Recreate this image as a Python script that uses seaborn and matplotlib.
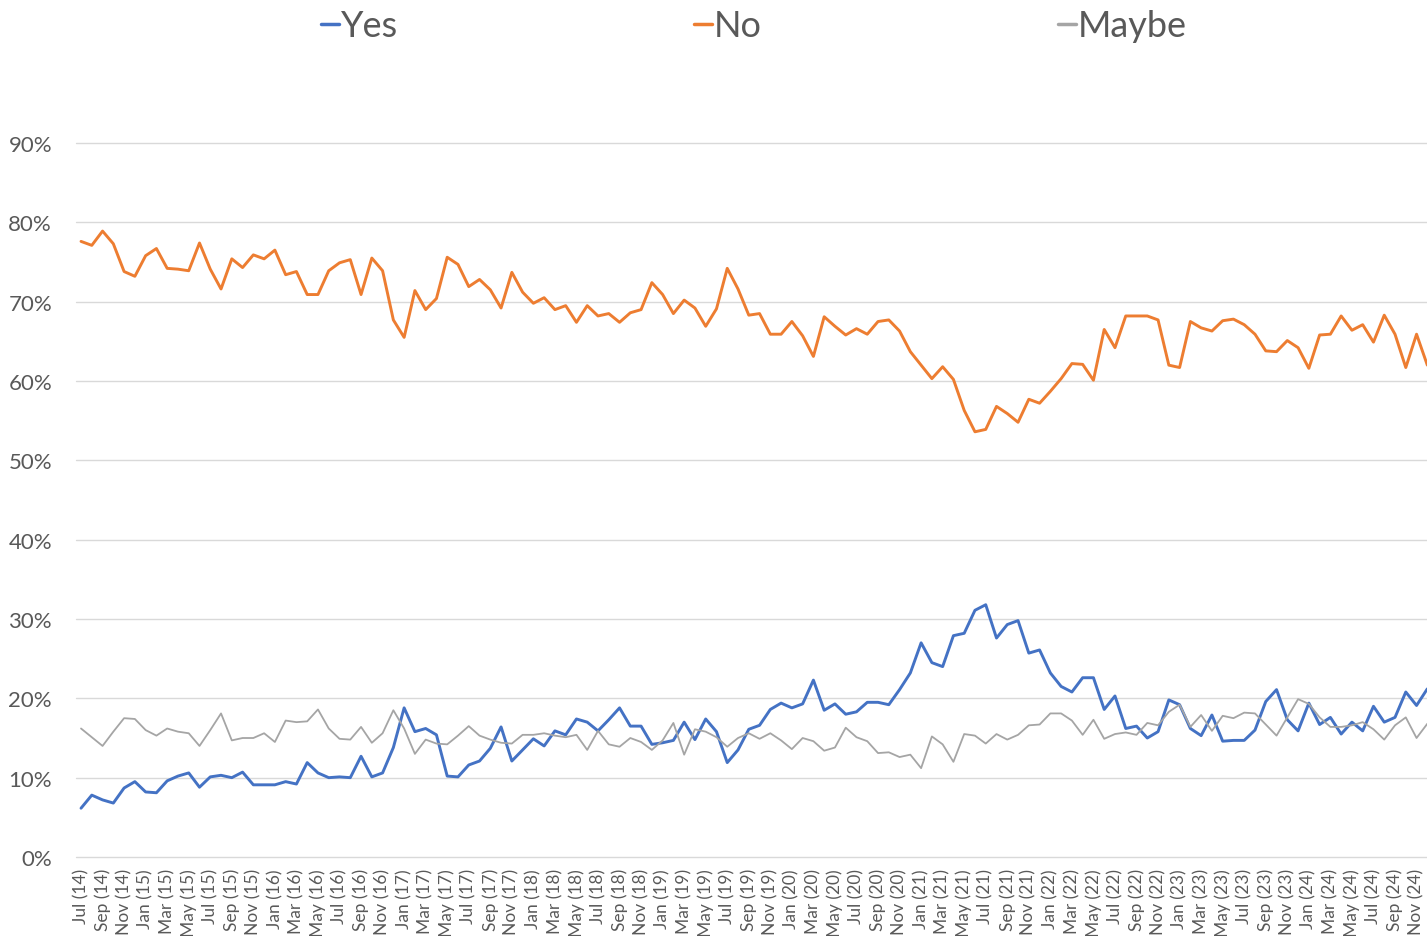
import pandas as pd
import matplotlib
matplotlib.use('Agg')
import matplotlib.pyplot as plt
import seaborn as sns
from matplotlib.ticker import FuncFormatter

# monthly shares (%), Jul 2014 - Dec 2024
yes = [6.15, 7.8, 7.2, 6.8, 8.7, 9.5, 8.2, 8.1, 9.6, 10.2,
       10.6, 8.8, 10.1, 10.3, 10.0, 10.7, 9.1, 9.1, 9.1, 9.5,
       9.2, 11.9, 10.6, 10.0, 10.1, 10.0, 12.7, 10.1, 10.6, 13.8,
       18.8, 15.8, 16.2, 15.4, 10.2, 10.1, 11.6, 12.1, 13.7, 16.4,
       12.1, 13.5, 14.9, 14.0, 15.9, 15.4, 17.4, 17.0, 15.9, 17.3,
       18.8, 16.5, 16.5, 14.2, 14.4, 14.7, 17.0, 14.8, 17.4, 15.8,
       11.9, 13.5, 16.1, 16.6, 18.6, 19.4, 18.8, 19.3, 22.3, 18.5,
       19.3, 18.0, 18.3, 19.5, 19.5, 19.2, 21.1, 23.2, 27.0, 24.5,
       24.0, 27.9, 28.2, 31.1, 31.8, 27.6, 29.3, 29.8, 25.7, 26.1,
       23.2, 21.5, 20.8, 22.6, 22.6, 18.6, 20.3, 16.2, 16.5, 15.0,
       15.8, 19.8, 19.2, 16.2, 15.3, 17.9, 14.6, 14.7, 14.7, 16.0,
       19.6, 21.1, 17.3, 15.9, 19.4, 16.7, 17.6, 15.5, 17.0, 15.9,
       19.0, 17.0, 17.6, 20.8, 19.1, 21.2]

no = [77.6, 77.1, 78.9, 77.3, 73.8, 73.2, 75.8, 76.7, 74.2, 74.1,
      73.9, 77.4, 74.1, 71.6, 75.4, 74.3, 75.9, 75.4, 76.5, 73.4,
      73.8, 70.9, 70.9, 73.9, 74.9, 75.3, 70.9, 75.5, 73.9, 67.7,
      65.5, 71.4, 69.0, 70.4, 75.6, 74.7, 71.9, 72.8, 71.5, 69.2,
      73.7, 71.2, 69.8, 70.5, 69.0, 69.5, 67.4, 69.5, 68.2, 68.5,
      67.4, 68.6, 69.0, 72.4, 70.9, 68.5, 70.2, 69.2, 66.9, 69.1,
      74.2, 71.6, 68.3, 68.5, 65.9, 65.9, 67.5, 65.7, 63.1, 68.1,
      66.9, 65.8, 66.6, 65.9, 67.5, 67.7, 66.3, 63.7, 62.0, 60.3,
      61.8, 60.2, 56.3, 53.6, 53.9, 56.8, 55.9, 54.8, 57.7, 57.2,
      58.7, 60.3, 62.2, 62.1, 60.1, 66.5, 64.2, 68.2, 68.2, 68.2,
      67.7, 62.0, 61.7, 67.5, 66.7, 66.3, 67.6, 67.8, 67.1, 65.9,
      63.8, 63.7, 65.1, 64.2, 61.6, 65.8, 65.9, 68.2, 66.4, 67.1,
      64.9, 68.3, 65.9, 61.7, 65.9, 62.0]

maybe = [16.2, 15.1, 14.0, 15.8, 17.5, 17.4, 16.0, 15.3, 16.2, 15.8,
         15.6, 14.0, 16.0, 18.1, 14.7, 15.0, 15.0, 15.6, 14.5, 17.2,
         17.0, 17.1, 18.6, 16.2, 14.9, 14.8, 16.4, 14.4, 15.6, 18.5,
         16.2, 13.0, 14.8, 14.3, 14.2, 15.3, 16.5, 15.3, 14.8, 14.4,
         14.3, 15.4, 15.4, 15.6, 15.3, 15.1, 15.4, 13.5, 15.9, 14.2,
         13.9, 15.0, 14.5, 13.5, 14.7, 16.9, 12.9, 16.1, 15.8, 15.1,
         13.9, 15.0, 15.6, 14.9, 15.6, 14.7, 13.6, 15.0, 14.6, 13.4,
         13.8, 16.3, 15.1, 14.6, 13.1, 13.2, 12.6, 12.9, 11.2, 15.2,
         14.2, 12.0, 15.5, 15.3, 14.3, 15.5, 14.8, 15.4, 16.6, 16.7,
         18.1, 18.1, 17.2, 15.4, 17.3, 14.9, 15.5, 15.7, 15.4, 16.9,
         16.6, 18.3, 19.2, 16.4, 17.9, 15.9, 17.8, 17.5, 18.2, 18.1,
         16.7, 15.3, 17.6, 19.9, 19.3, 17.6, 16.4, 16.4, 16.6, 17.0,
         16.1, 14.8, 16.6, 17.6, 15.0, 16.8]

months = pd.date_range('2014-07-01', '2024-12-01', freq='MS').strftime('%b (%y)').tolist()

df = pd.DataFrame({'idx': range(len(months)), 'Yes': yes, 'No': no, 'Maybe': maybe})

sns.set_style('white')
plt.rcParams['font.family'] = ['Lato', 'DejaVu Sans']

fig = plt.figure(figsize=(14.27, 9.37), dpi=100)
ax = fig.add_axes([0.053, 0.0843, 0.951, 0.762])

sns.lineplot(data=df, x='idx', y='Yes', color='#4472C4', linewidth=2.1, label='Yes', ax=ax)
sns.lineplot(data=df, x='idx', y='No', color='#ED7D31', linewidth=2.1, label='No', ax=ax)
sns.lineplot(data=df, x='idx', y='Maybe', color='#A5A5A5', linewidth=1.3, label='Maybe', ax=ax)

ax.set_xlim(-0.5, len(months) - 0.5)
ax.set_ylim(0, 90)
ax.set_yticks(range(0, 91, 10))
ax.yaxis.set_major_formatter(FuncFormatter(lambda v, p: f'{v:.0f}%'))
ax.set_xticks(range(0, len(months), 2))
ax.set_xticklabels(months[::2], rotation=90)
ax.set_xlabel('')
ax.set_ylabel('')

ax.grid(axis='y', color='#D9D9D9', linewidth=1)
ax.grid(axis='x', visible=False)
for line in ax.get_ygridlines():
    line.set_clip_on(False)
for s in ax.spines.values():
    s.set_visible(False)
ax.tick_params(axis='both', length=0, colors='#595959')
ax.tick_params(axis='y', labelsize=16, pad=17)
ax.tick_params(axis='x', labelsize=12.5, pad=8)

leg = ax.legend(loc='center', bbox_to_anchor=(0.5, 1.164), ncol=3, frameon=False,
                fontsize=26, handlelength=0.5, handletextpad=0.05,
                columnspacing=8.2, labelcolor='#595959')
for h in leg.get_lines():
    h.set_linewidth(2.5)

fig.savefig('out.png', dpi=100)
